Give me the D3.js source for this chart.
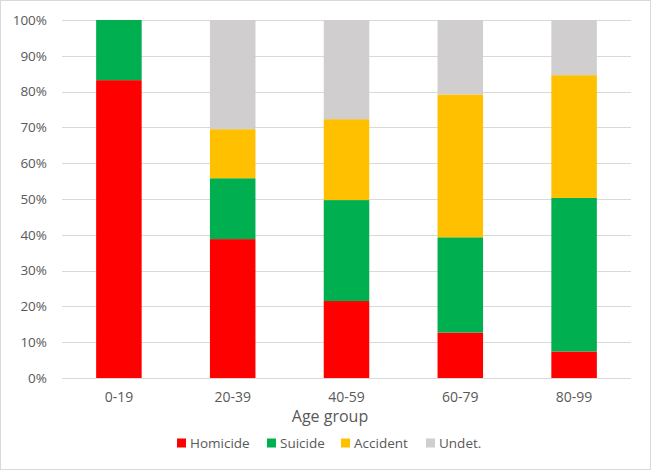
<!DOCTYPE html>
<html>
<head>
<meta charset="utf-8">
<script src="https://cdn.jsdelivr.net/npm/d3@7"></script>
<style>
  body { margin: 0; background: #fff; }
  svg { font-family: "Open Sans", sans-serif; }
</style>
</head>
<body>
<svg width="651" height="470"></svg>
<script>
// age groups and shares (%) per cause of death
let ageGroups = ["0-19", "20-39", "40-59", "60-79", "80-99"];
let causes = ["Homicide", "Suicide", "Accident", "Undet."];
let homicide = [83.2, 38.8, 21.5, 12.7, 7.4];
let suicide = [16.8, 17.0, 28.2, 26.6, 42.9];
let accident = [0, 13.7, 22.6, 39.9, 34.3];
let undet = [0, 30.5, 27.7, 20.8, 15.4];
let yTicks = [0, 10, 20, 30, 40, 50, 60, 70, 80, 90, 100];

let colors = ["#FF0000", "#00B050", "#FFC000", "#D0CECE"];

let margin = { top: 20, right: 20, bottom: 92, left: 62 },
  width = 651 - margin.left - margin.right,
  height = 470 - margin.top - margin.bottom;

let svg = d3.select("svg");

svg
  .append("rect")
  .attr("x", 0.5)
  .attr("y", 0.5)
  .attr("width", 650)
  .attr("height", 469)
  .attr("fill", "#fff")
  .attr("stroke", "#D9D9D9");

const table = ageGroups.map((g, i) => ({
  group: g,
  Homicide: homicide[i],
  Suicide: suicide[i],
  Accident: accident[i],
  "Undet.": undet[i],
}));

const series = d3.stack().keys(causes)(table);

const x = d3
  .scaleBand()
  .domain(ageGroups)
  .range([0, width])
  .paddingInner(0.6)
  .paddingOuter(0.3);

const y = d3.scaleLinear().domain([0, 100]).range([height, 0]);

const color = d3.scaleOrdinal().domain(causes).range(colors);

const g = svg
  .append("g")
  .attr("transform", `translate(${margin.left},${margin.top})`);

// gridlines
g.selectAll("line.grid")
  .data(yTicks)
  .enter()
  .append("line")
  .attr("class", "grid")
  .attr("x1", 0)
  .attr("x2", width)
  .attr("y1", (d) => Math.round(y(d)) + 0.5)
  .attr("y2", (d) => Math.round(y(d)) + 0.5)
  .attr("stroke", "#D9D9D9")
  .attr("stroke-width", 1);

// y tick labels
g.selectAll("text.ytick")
  .data(yTicks)
  .enter()
  .append("text")
  .attr("class", "ytick")
  .attr("x", -15)
  .attr("y", (d) => y(d))
  .attr("dy", "0.35em")
  .attr("text-anchor", "end")
  .attr("font-size", "13.5px")
  .attr("fill", "#595959")
  .text((d) => d + "%");

// bars
g.selectAll("g.layer")
  .data(series)
  .enter()
  .append("g")
  .attr("class", "layer")
  .attr("fill", (d) => color(d.key))
  .selectAll("rect")
  .data((d) => d)
  .enter()
  .append("rect")
  .attr("x", (d) => x(d.data.group))
  .attr("width", x.bandwidth())
  .attr("y", (d) => y(d[1]))
  .attr("height", (d) => y(d[0]) - y(d[1]));

// x tick labels
g.selectAll("text.xtick")
  .data(ageGroups)
  .enter()
  .append("text")
  .attr("class", "xtick")
  .attr("x", (d) => x(d) + x.bandwidth() / 2)
  .attr("y", height + 19)
  .attr("dy", "0.35em")
  .attr("text-anchor", "middle")
  .attr("font-size", "14px")
  .attr("fill", "#595959")
  .text((d) => d);

// axis title
svg
  .append("text")
  .attr("x", 330)
  .attr("y", 416)
  .attr("dy", "0.35em")
  .attr("text-anchor", "middle")
  .attr("font-size", "16px")
  .attr("fill", "#595959")
  .text("Age group");

// legend
const legendX = [177, 267, 341, 426];
const legend = svg
  .selectAll("g.legend")
  .data(causes)
  .enter()
  .append("g")
  .attr("class", "legend")
  .attr("transform", (d, i) => `translate(${legendX[i]}, 443)`);

legend
  .append("rect")
  .attr("x", 0)
  .attr("y", -4.5)
  .attr("width", 9)
  .attr("height", 9)
  .attr("fill", (d) => color(d));

legend
  .append("text")
  .attr("x", 13)
  .attr("y", 0)
  .attr("dy", "0.35em")
  .attr("font-size", "13.5px")
  .attr("fill", "#595959")
  .text((d) => d);
</script>
</body>
</html>
